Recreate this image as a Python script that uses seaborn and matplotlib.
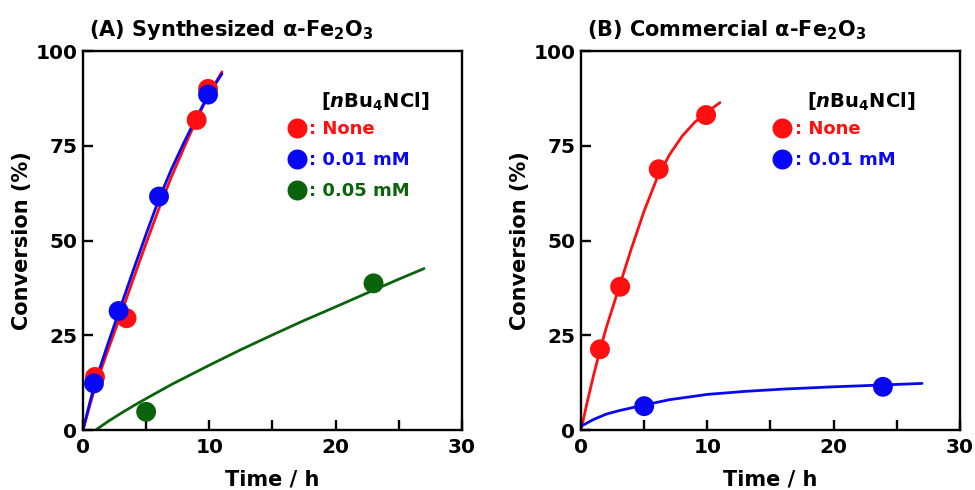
import matplotlib
matplotlib.use("Agg")
import matplotlib.pyplot as plt
from matplotlib.lines import Line2D
from matplotlib.ticker import MultipleLocator
import seaborn as sns

# ---------------- data ----------------
# Panel A: synthesized alpha-Fe2O3
a_none_t = [0.95, 3.45, 9.0, 9.9]
a_none_y = [14.0, 29.5, 81.8, 90.0]
a_001_t = [0.87, 2.82, 6.02, 9.9]
a_001_y = [12.3, 31.4, 61.6, 88.5]
a_005_t = [5.0, 23.0]
a_005_y = [4.8, 38.7]

# fitted curves
a_none_fit_t = [0, 0.5, 1, 2, 3, 4, 5, 6, 7, 8, 9, 10, 11]
a_none_fit_y = [0, 6.0, 11.8, 21.3, 30.5, 40, 49.3, 58.3, 66.8, 74.5, 82, 88.8, 94.5]
a_001_fit_t = [0, 0.5, 1, 2, 3, 4, 5, 6, 7, 8, 9, 10, 11]
a_001_fit_y = [0, 6.7, 13, 23, 32.7, 42.3, 51.7, 60.8, 68.8, 75.9, 82.6, 88.8, 94]
a_005_fit_t = [1, 2, 3, 4, 5, 7, 10, 12.5, 15, 17.5, 20, 23, 25, 27]
a_005_fit_y = [0, 2.3, 4.4, 6.4, 8.3, 12.0, 17.1, 21.2, 25.1, 28.9, 32.5, 36.9, 39.8, 42.6]

# Panel B: commercial alpha-Fe2O3
b_none_t = [1.5, 3.1, 6.15, 9.9]
b_none_y = [21.3, 37.8, 68.8, 83.1]
b_001_t = [5.0, 23.9]
b_001_y = [6.3, 11.4]

b_none_fit_t = [0, 0.5, 1, 1.5, 2, 3, 4, 5, 6, 7, 8, 9, 10, 11]
b_none_fit_y = [0, 7.5, 14.5, 21, 27, 37.5, 48, 57.8, 66.3, 72.6, 77.5, 81.2, 83.9, 86.4]
b_001_fit_t = [0, 1, 2, 3, 5, 7, 10, 13, 16, 20, 24, 27]
b_001_fit_y = [1.0, 2.8, 4.2, 5.1, 6.6, 8.0, 9.4, 10.2, 10.8, 11.4, 11.9, 12.3]

series_labels = [": None", ": 0.01 mM", ": 0.05 mM"]
titles = ["(A) Synthesized α-Fe$_\\mathregular{2}$O$_\\mathregular{3}$",
          "(B) Commercial α-Fe$_\\mathregular{2}$O$_\\mathregular{3}$"]
legend_title = "[$\\mathit{n}$Bu$_\\mathregular{4}$NCl]"
xlabel = "Time / h"
ylabel = "Conversion (%)"

RED = "#ff0f0f"
BLUE = "#0808f5"
GREEN = "#0b640b"
colors = [RED, BLUE, GREEN]

# ---------------- style ----------------
sns.set_theme(style="ticks")
plt.rcParams["font.family"] = ["DejaVu Sans"]
plt.rcParams["font.weight"] = "bold"
plt.rcParams["text.color"] = "black"
plt.rcParams["axes.labelcolor"] = "black"
plt.rcParams["xtick.color"] = "black"
plt.rcParams["ytick.color"] = "black"
plt.rcParams["mathtext.fontset"] = "custom"
plt.rcParams["mathtext.rm"] = "DejaVu Sans:bold"
plt.rcParams["mathtext.it"] = "DejaVu Sans:bold:italic"
plt.rcParams["mathtext.bf"] = "DejaVu Sans:bold"

fig = plt.figure(figsize=(9.75, 4.9), dpi=100)
ax_a = fig.add_axes([0.0851, 0.1224, 0.3887, 0.7735])
ax_b = fig.add_axes([0.5959, 0.1224, 0.3887, 0.7735])

MS = 205  # marker area (pt^2)
LW = 2.0


def draw(ax, fits, pts, cols):
    for (ft, fy), c in zip(fits, cols):
        sns.lineplot(x=ft, y=fy, ax=ax, color=c, lw=LW, estimator=None, sort=False)
    for (pt, py), c in zip(pts, cols):
        sns.scatterplot(x=pt, y=py, ax=ax, color=c, s=MS, edgecolor="none",
                        linewidth=0, zorder=5)


draw(ax_a,
     [(a_none_fit_t, a_none_fit_y), (a_001_fit_t, a_001_fit_y), (a_005_fit_t, a_005_fit_y)],
     [(a_none_t, a_none_y), (a_001_t, a_001_y), (a_005_t, a_005_y)],
     colors)
draw(ax_b,
     [(b_none_fit_t, b_none_fit_y), (b_001_fit_t, b_001_fit_y)],
     [(b_none_t, b_none_y), (b_001_t, b_001_y)],
     colors[:2])

panel_cfg = [(ax_a, titles[0], 3, 0.535, 0.770), (ax_b, titles[1], 2, 0.502, 0.739)]
for ax, title, n, lx, tx in panel_cfg:
    ax.set_xlim(0, 30)
    ax.set_ylim(0, 100)
    ax.xaxis.set_major_locator(MultipleLocator(10))
    ax.xaxis.set_minor_locator(MultipleLocator(5))
    ax.yaxis.set_major_locator(MultipleLocator(25))
    ax.tick_params(axis="both", which="both", direction="in", length=7.5, width=1.7,
                   color="black", labelsize=14.5, top=False, right=False)
    ax.tick_params(axis="x", which="major", pad=6)
    ax.tick_params(axis="y", which="major", pad=4)
    for lab in ax.get_xticklabels() + ax.get_yticklabels():
        lab.set_fontweight("bold")
    for sp in ax.spines.values():
        sp.set_visible(True)
        sp.set_linewidth(1.7)
        sp.set_color("black")
    ax.set_xlabel(xlabel, fontsize=15, fontweight="bold", labelpad=8.5)
    ax.set_ylabel(ylabel, fontsize=15, fontweight="bold", labelpad=2.5)
    ax.text(0.015, 1.025, title, transform=ax.transAxes, fontsize=15,
            fontweight="bold", ha="left", va="bottom")

    # legend title as text, legend entries below
    ax.text(tx, 0.867, legend_title, transform=ax.transAxes, fontsize=14,
            fontweight="bold", ha="center", va="center")
    handles = [Line2D([], [], marker="o", ls="", color=c, markersize=14.4,
                      markeredgewidth=0) for c in colors[:n]]
    leg = ax.legend(handles, series_labels[:n],
                    loc="upper left", bbox_to_anchor=(lx, 0.817),
                    frameon=False, fontsize=13,
                    handlelength=1.2, handletextpad=0.1, labelspacing=0.72,
                    borderpad=0, borderaxespad=0)
    for txt, c in zip(leg.get_texts(), colors[:n]):
        txt.set_color(c)
        txt.set_fontweight("bold")

fig.savefig("out.png", dpi=100)
